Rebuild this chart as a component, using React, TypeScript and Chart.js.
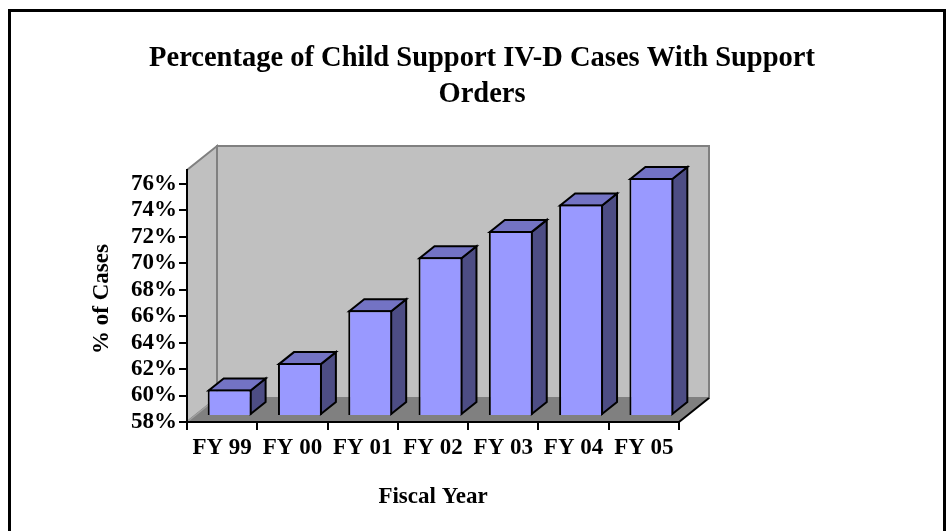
import React, { useEffect, useRef } from 'react';
import { Chart, registerables } from 'chart.js';

Chart.register(...registerables);

// ---- data ----
const categories = ['FY 99', 'FY 00', 'FY 01', 'FY 02', 'FY 03', 'FY 04', 'FY 05'];
const percentCases = [60, 62, 66, 70, 72, 74, 76];
const yTickValues = [58, 60, 62, 64, 66, 68, 70, 72, 74, 76];
const yMin = 58;
const yMax = 77.06;
const titleLines = ['Percentage of Child Support IV-D Cases With Support', 'Orders'];
const yAxisTitle = '% of Cases';
const xAxisTitle = 'Fiscal Year';

// ---- style ----
const FONT = '"Liberation Serif", "Times New Roman", serif';
const FLOOR_DX = 30;
const FLOOR_DY = -24;
const BAR_FRONT_DX = FLOOR_DX / 4;
const BAR_FRONT_DY = FLOOR_DY / 4;
const BAR_DX = FLOOR_DX / 2;
const BAR_DY = FLOOR_DY / 2;
const WALL = '#C0C0C0';
const WALL_EDGE = '#808080';
const FLOOR = '#808080';
const BAR_FRONT = '#9999FF';
const BAR_TOP = '#7373C4';
const BAR_SIDE = '#4D4D84';

function poly(ctx: CanvasRenderingContext2D, pts: number[][], fill: string, stroke: string, lw: number) {
  ctx.beginPath();
  ctx.moveTo(pts[0][0], pts[0][1]);
  for (let i = 1; i < pts.length; i++) ctx.lineTo(pts[i][0], pts[i][1]);
  ctx.closePath();
  ctx.fillStyle = fill;
  ctx.fill();
  if (stroke) {
    ctx.strokeStyle = stroke;
    ctx.lineWidth = lw;
    ctx.lineJoin = 'miter';
    ctx.stroke();
  }
}

const threeDPlugin = {
  id: 'threeD',
  beforeDraw(chart: any) {
    const { ctx, chartArea: a } = chart;
    ctx.save();
    ctx.fillStyle = '#fff';
    ctx.fillRect(0, 0, chart.width, chart.height);
    // outer frame
    ctx.strokeStyle = '#000';
    ctx.lineWidth = 3;
    ctx.strokeRect(9.5, 10.5, 935, 540);
    const L = a.left, R = a.right, T = a.top, B = a.bottom;
    // side wall
    poly(ctx, [[L, B], [L, T], [L + FLOOR_DX, T + FLOOR_DY], [L + FLOOR_DX, B + FLOOR_DY]], WALL, WALL_EDGE, 2);
    // back wall
    poly(ctx, [[L + FLOOR_DX, T + FLOOR_DY], [R + FLOOR_DX, T + FLOOR_DY], [R + FLOOR_DX, B + FLOOR_DY], [L + FLOOR_DX, B + FLOOR_DY]], WALL, WALL_EDGE, 2);
    // floor
    poly(ctx, [[L, B], [R, B], [R + FLOOR_DX, B + FLOOR_DY], [L + FLOOR_DX, B + FLOOR_DY]], FLOOR, '', 0);
    ctx.strokeStyle = '#A0A0A0';
    ctx.lineWidth = 1.5;
    ctx.beginPath();
    ctx.moveTo(L, B);
    ctx.lineTo(L + FLOOR_DX, B + FLOOR_DY);
    ctx.stroke();
    ctx.strokeStyle = '#000';
    ctx.lineWidth = 2;
    ctx.beginPath();
    ctx.moveTo(R, B);
    ctx.lineTo(R + FLOOR_DX, B + FLOOR_DY);
    ctx.stroke();
    ctx.restore();
  },
  beforeDatasetsDraw(chart: any) {
    const ctx = chart.ctx;
    ctx.save();
    ctx.translate(BAR_FRONT_DX, BAR_FRONT_DY);
    const meta = chart.getDatasetMeta(0);
    meta.data.forEach((bar: any) => {
      const { x, y, base, width } = bar.getProps(['x', 'y', 'base', 'width'], true);
      const l = x - width / 2;
      const r = x + width / 2;
      poly(ctx, [[r - 1, y + 1], [r - 1 + BAR_DX, y + 1 + BAR_DY], [r - 1 + BAR_DX, base - 1 + BAR_DY], [r - 1, base - 1]], BAR_SIDE, '#000', 2);
      poly(ctx, [[l + 1, y + 1], [r - 1, y + 1], [r - 1 + BAR_DX, y + 1 + BAR_DY], [l + 1 + BAR_DX, y + 1 + BAR_DY]], BAR_TOP, '#000', 2);
    });
  },
  afterDatasetsDraw(chart: any) {
    chart.ctx.restore();
  },
  afterDraw(chart: any) {
    const { ctx, chartArea: a } = chart;
    ctx.save();
    ctx.fillStyle = '#000';
    ctx.textAlign = 'center';
    ctx.textBaseline = 'alphabetic';
    ctx.font = `bold 28.5px ${FONT}`;
    ctx.fillText(titleLines[0], 482, 66);
    ctx.fillText(titleLines[1], 482, 102);
    ctx.font = `bold 23px ${FONT}`;
    ctx.textBaseline = 'middle';
    ctx.fillText(xAxisTitle, (a.left + a.right) / 2, 497);
    ctx.translate(102, 299);
    ctx.rotate(-Math.PI / 2);
    ctx.fillText(yAxisTitle, 0, 0);
    ctx.restore();
  },
};

export default function App() {
  const ref = useRef<HTMLCanvasElement>(null);
  useEffect(() => {
    if (!ref.current) return;
    Chart.defaults.font.family = FONT;
    Chart.defaults.color = '#000';
    const chart = new Chart(ref.current, {
      type: 'bar',
      data: {
        labels: categories,
        datasets: [
          {
            data: percentCases,
            base: yMin,
            backgroundColor: BAR_FRONT,
            borderColor: '#000',
            borderWidth: 2,
            barPercentage: 0.625,
            categoryPercentage: 1,
            clip: false,
          } as any,
        ],
      },
      options: {
        responsive: false,
        animation: false,
        devicePixelRatio: 1,
        layout: { padding: { left: 0, top: 170, right: 269, bottom: 0 } },
        plugins: { legend: { display: false }, title: { display: false }, tooltip: { enabled: false } },
        scales: {
          x: {
            offset: true,
            grid: { drawOnChartArea: false, drawTicks: true, tickLength: 8, color: '#000', lineWidth: 2, offset: true },
            border: { color: '#000', width: 2 },
            ticks: { font: { size: 23, weight: 'bold' }, padding: 4, maxRotation: 0, autoSkip: false },
            afterFit: (s: any) => {
              s.height = 109;
              s.paddingLeft = 0;
              s.paddingRight = 0;
            },
          },
          y: {
            min: yMin,
            max: yMax,
            grid: { drawOnChartArea: false, drawTicks: true, tickLength: 8, color: '#000', lineWidth: 2 },
            border: { color: '#000', width: 2 },
            ticks: { font: { size: 23, weight: 'bold' }, padding: 2, autoSkip: false, callback: (v: any) => `${v}%` },
            afterBuildTicks: (s: any) => {
              s.ticks = yTickValues.map((v) => ({ value: v }));
            },
            afterFit: (s: any) => {
              s.width = 187;
              s.paddingTop = 0;
              s.paddingBottom = 0;
            },
          },
        },
      },
      plugins: [threeDPlugin],
    });
    return () => chart.destroy();
  }, []);
  return (
    <div style={{ position: 'absolute', left: 0, top: 0, width: 948, height: 531 }}>
      <canvas ref={ref} width={948} height={531} style={{ display: 'block', width: 948, height: 531 }} />
    </div>
  );
}
